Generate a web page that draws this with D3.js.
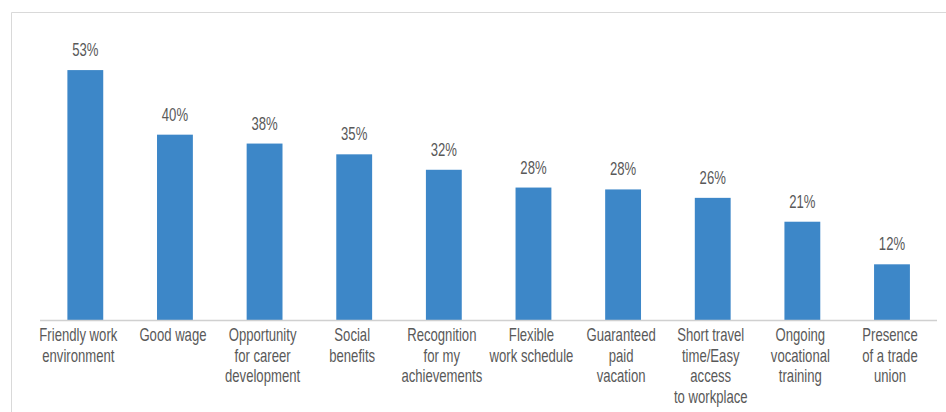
<!DOCTYPE html>
<html>
<head>
<meta charset="utf-8">
<script src="https://cdn.jsdelivr.net/npm/d3@7"></script>
<style>
  html, body { margin: 0; padding: 0; background: #fff; }
  svg { display: block; }
  text { font-family: "Liberation Sans", Arial, sans-serif; fill: #595959; }
</style>
</head>
<body>
<svg id="chart" width="946" height="412"></svg>
<script>
const categories = [
  ["Friendly work", "environment"],
  ["Good wage"],
  ["Opportunity", "for career", "development"],
  ["Social", "benefits"],
  ["Recognition", "for my", "achievements"],
  ["Flexible", "work schedule"],
  ["Guaranteed", "paid", "vacation"],
  ["Short travel", "time/Easy", "access", "to workplace"],
  ["Ongoing", "vocational", "training"],
  ["Presence", "of a trade", "union"]
];
const values = [53.4, 39.6, 37.7, 35.4, 32.1, 28.3, 27.9, 26.1, 21.0, 11.9];
const labels = ["53%", "40%", "38%", "35%", "32%", "28%", "28%", "26%", "21%", "12%"];

const svg = d3.select("#chart");
const W = 946, H = 412;
const SX = 0.75; // condensed look

// frame
svg.append("path")
  .attr("d", `M11.5,${H} V12.5 H${W}`)
  .attr("fill", "none").attr("stroke", "#d9d9d9").attr("stroke-width", 1);

const x = d3.scaleBand().domain(d3.range(categories.length)).range([40.5, 936.8]).paddingInner(0.6).paddingOuter(0.3);
const y = d3.scaleLinear().domain([0, 60]).range([320, 320 - 4.68 * 60]);

svg.selectAll("rect.bar").data(values).join("rect")
  .attr("class", "bar")
  .attr("x", (d, i) => x(i))
  .attr("width", x.bandwidth())
  .attr("y", d => y(d))
  .attr("height", d => y(0) - y(d))
  .attr("fill", "#3d87c8");

// axis line
svg.append("line")
  .attr("x1", 40).attr("x2", 937)
  .attr("y1", 320.5).attr("y2", 320.5)
  .attr("stroke", "#d0d0d0").attr("stroke-width", 1.5);

svg.selectAll("text.val").data(values).join("text")
  .attr("class", "val")
  .attr("transform", (d, i) => `translate(${x(i) + x.bandwidth() / 2},${y(d) - 14}) scale(${SX},1)`)
  .attr("text-anchor", "middle")
  .attr("font-size", 17.5)
  .text((d, i) => labels[i]);

const cat = svg.selectAll("text.cat").data(categories).join("text")
  .attr("class", "cat")
  .attr("transform", (d, i) => `translate(${x(i) + x.bandwidth() / 2 - (i === 0 ? 7 : 2)},0) scale(${SX},1)`)
  .attr("text-anchor", "middle")
  .attr("font-size", 17.5);
cat.each(function(lines) {
  const t = d3.select(this);
  lines.forEach((ln, j) => {
    t.append("tspan")
      .attr("x", 0)
      .attr("y", 341.5 + j * 20.5)
      .text(ln);
  });
});
</script>
</body>
</html>
